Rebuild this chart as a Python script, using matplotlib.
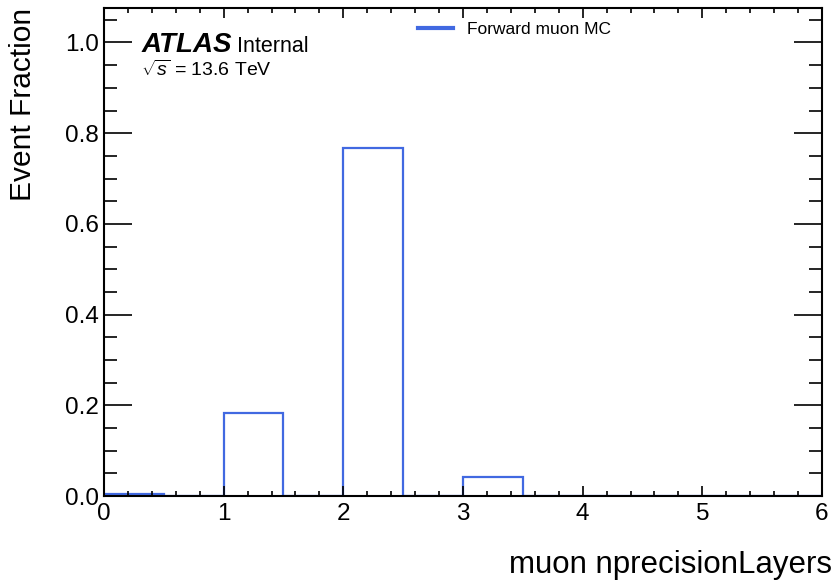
import numpy as np
import matplotlib.pyplot as plt
from matplotlib.ticker import MultipleLocator

plt.rcParams['font.family'] = ['Liberation Sans', 'DejaVu Sans']
plt.rcParams['mathtext.fontset'] = 'custom'
plt.rcParams['mathtext.rm'] = 'Liberation Sans'
plt.rcParams['mathtext.it'] = 'Liberation Sans:italic'

# bin edges and fractions (empty bins in between)
edges = np.arange(0, 6.5, 0.5)
fractions = [0.004, 0.0, 0.183, 0.0, 0.767, 0.0, 0.042, 0.0, 0.001, 0.0, 0.001, 0.0]
label = "Forward muon MC"

fig = plt.figure(figsize=(8.34, 5.8), dpi=100)
ax = fig.add_axes([0.1247, 0.1448, 0.8609, 0.8414])

ax.stairs(fractions, edges, color="royalblue", lw=1.6, label=label)

ax.set_xlim(0, 6)
ax.set_ylim(0, 1.076)
ax.xaxis.set_major_locator(MultipleLocator(1))
ax.xaxis.set_minor_locator(MultipleLocator(0.2))
ax.yaxis.set_major_locator(MultipleLocator(0.2))
ax.yaxis.set_minor_locator(MultipleLocator(0.05))
ax.tick_params(which="both", direction="in", top=True, right=True, labelsize=17.5, width=1.2)
ax.tick_params(axis="x", which="major", length=7.2, pad=5)
ax.tick_params(axis="x", which="minor", length=3.6)
ax.tick_params(axis="y", which="major", length=20)
ax.tick_params(axis="y", which="minor", length=9.5)
for s in ax.spines.values():
    s.set_linewidth(1.5)

ax.set_xlabel("muon nprecisionLayers", fontsize=22.5, loc="right", labelpad=18)
ax.xaxis.label.set_x(1.014)
ax.set_ylabel("Event Fraction", fontsize=21.5, loc="top", labelpad=20)

ax.text(0.052, 0.910, "ATLAS", transform=ax.transAxes, fontsize=20,
        fontweight="bold", fontstyle="italic", va="baseline")
ax.text(0.185, 0.910, "Internal", transform=ax.transAxes, fontsize=15.5, va="baseline")
ax.text(0.052, 0.860, r"$\sqrt{s}$ = 13.6 TeV", transform=ax.transAxes,
        fontsize=14, va="baseline")

leg = ax.legend(loc="upper center", bbox_to_anchor=(0.572, 1.004), frameon=False,
                fontsize=12.5, handlelength=2.0)
leg.get_lines()[0].set_linewidth(3)

fig.savefig("out.png", dpi=100)
